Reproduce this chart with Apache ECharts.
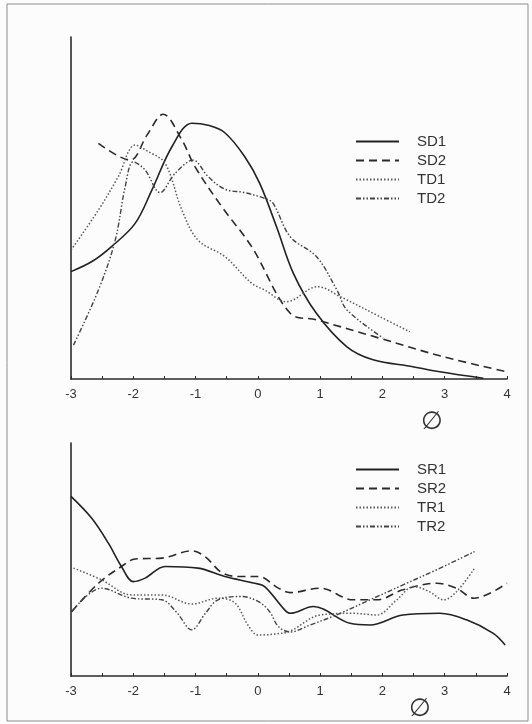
<!DOCTYPE html>
<html>
<head>
<meta charset="utf-8">
<script src="https://cdn.jsdelivr.net/npm/echarts@6/dist/echarts.min.js"></script>
<style>
html,body{margin:0;padding:0;background:#fcfcfc;}
#c{width:532px;height:724px;}
</style>
</head>
<body>
<div id="c"></div>
<script>
// x ticks (phi scale)
const xTicks = [-3, -2, -1, 0, 1, 2, 3, 4];
// Top panel: SD1, SD2, TD1, TD2  ([phi, relative value])
const SD1 = [[-3,31.4],[-2.65,34.5],[-2.35,38.7],[-1.97,45.5],[-1.7,55.3],[-1.38,67.9],[-1.06,74.8],[-0.8,74.2],[-0.53,72.0],[-0.21,65.0],[0.03,57.2],[0.3,44.5],[0.57,30.9],[0.94,19.2],[1.43,9.4],[1.85,5.6],[2.49,3.6],[2.92,2.1],[3.62,0.2]];
const SD2 = [[-2.56,68.9],[-2.05,64.0],[-1.78,71.3],[-1.52,77.4],[-1.22,69.9],[-1.01,62.1],[-0.58,50.4],[-0.1,38.7],[0.52,19.2],[0.94,17.3],[1.96,11.9],[2.98,6.5],[4.0,2.1]];
const TD1 = [[-3,37.7],[-2.56,49.4],[-2.24,59.2],[-1.97,68.4],[-1.76,66.5],[-1.49,63.1],[-1.22,49.4],[-0.96,40.6],[-0.53,35.8],[-0.1,28.0],[0.11,26.0],[0.46,22.6],[0.96,27.0],[1.32,24.1],[1.96,18.2],[2.44,13.8]];
const TD2 = [[-2.96,9.9],[-2.56,26.0],[-2.29,40.6],[-2.13,56.2],[-2.0,63.5],[-1.81,61.1],[-1.57,54.5],[-1.33,60.1],[-1.04,64.0],[-0.8,59.2],[-0.53,55.5],[-0.21,54.5],[0.11,52.8],[0.24,51.5],[0.52,41.6],[0.94,35.8],[1.27,26.0],[1.43,20.2],[2.01,12.0]];
// Bottom panel: SR1, SR2, TR1, TR2
const SR1 = [[-3,77.1],[-2.67,67.8],[-2.4,57.0],[-2.19,47.0],[-2.0,40.5],[-1.81,42.0],[-1.49,47.0],[-0.96,46.3],[-0.53,42.7],[-0.05,39.8],[0.11,38.4],[0.43,28.4],[0.52,26.9],[0.89,29.8],[1.48,22.6],[1.8,21.9],[2.33,26.2],[2.92,26.9],[3.35,24.1],[3.78,18.3],[3.97,13.3]];
const SR2 = [[-2.99,27.6],[-2.56,39.8],[-2.19,47.0],[-1.97,50.2],[-1.54,50.6],[-1.06,53.7],[-0.85,51.3],[-0.58,44.4],[-0.31,42.7],[0.01,42.7],[0.33,37.7],[0.52,35.8],[1.0,37.7],[1.53,32.7],[1.91,32.7],[2.33,37.0],[2.87,39.8],[3.18,37.8],[3.47,33.4],[4.0,39.8]];
const TR1 = [[-2.96,46.3],[-2.51,41.3],[-2.03,34.8],[-1.54,34.8],[-1.06,30.9],[-0.64,33.4],[-0.37,31.4],[-0.16,21.9],[0.0,17.6],[0.27,18.0],[0.52,19.3],[1.0,26.2],[1.53,26.9],[1.91,26.2],[2.23,32.7],[2.5,38.4],[2.76,36.1],[2.98,32.7],[3.19,36.2],[3.48,46.3]];
const TR2 = [[-2.99,27.6],[-2.51,37.7],[-2.03,33.4],[-1.54,32.7],[-1.31,27.5],[-1.06,19.8],[-0.85,26.6],[-0.64,32.7],[-0.26,34.1],[0.01,31.9],[0.19,27.6],[0.33,21.2],[0.52,18.9],[0.84,21.9],[1.26,26.2],[1.8,32.7],[2.33,39.1],[2.87,45.6],[3.48,53.4]];

const ink = '#2a2a2a';
const styles = {
  S1: {type:'solid', width:1.6, color:'#222'},
  S2: {type:[8,5], width:1.6, color:'#2a2a2a'},
  T1: {type:[1.5,2], width:1.5, color:'#5a5a5a'},
  T2: {type:[5,2,1.5,2,1.5,2], width:1.4, color:'#444'}
};

function xAxis(gi){
  return {
    gridIndex: gi, type:'value', min:-3, max:4, interval:1,
    axisLine:{show:true, onZero:false, lineStyle:{color:ink, width:1.6}},
    axisTick:{show:true, inside:true, length:3, lineStyle:{color:ink, width:1}},
    minorTick:{show:true, splitNumber:2, length:3, lineStyle:{color:ink, width:1}},
    axisLabel:{color:'#333', fontSize:13, fontFamily:'Liberation Sans', margin:9,
      formatter: v => xTicks.indexOf(v) >= 0 ? String(v) : ''},
    splitLine:{show:false}, minorSplitLine:{show:false}
  };
}
function yAxis(gi){
  return {
    gridIndex: gi, type:'value', min:0, max:100, position:'left',
    axisLine:{show:true, onZero:false, lineStyle:{color:ink, width:1.6}},
    axisTick:{show:false}, axisLabel:{show:false}, splitLine:{show:false}
  };
}
function line(name, data, st, gi){
  return {
    name, type:'line', data, xAxisIndex:gi, yAxisIndex:gi,
    symbol:'none', smooth:0.35, lineStyle: st, itemStyle:{color: st.color},
    emphasis:{disabled:true}, animation:false
  };
}
const legendBase = {
  orient:'vertical', left:350, itemWidth:43, itemHeight:14, itemGap:4,
  itemStyle:{opacity:0},
  textStyle:{fontSize:15, color:'#333', fontFamily:'Liberation Sans', padding:[0,0,0,13]},
  selectedMode:false
};

const chart = echarts.init(document.getElementById('c'), null, {renderer:'canvas'});
chart.setOption({
  backgroundColor:'#fcfcfc',
  animation:false,
  grid:[
    {left:71, right:25, top:37, height:342},
    {left:71, right:25, top:443, height:233}
  ],
  xAxis:[xAxis(0), xAxis(1)],
  yAxis:[yAxis(0), yAxis(1)],
  legend:[
    Object.assign({}, legendBase, {top:129, data:['SD1','SD2','TD1','TD2']}),
    Object.assign({}, legendBase, {top:457, data:['SR1','SR2','TR1','TR2']})
  ],
  series:[
    line('SD1', SD1, styles.S1, 0),
    line('SD2', SD2, styles.S2, 0),
    line('TD1', TD1, styles.T1, 0),
    line('TD2', TD2, styles.T2, 0),
    line('SR1', SR1, styles.S1, 1),
    line('SR2', SR2, styles.S2, 1),
    line('TR1', TR1, styles.T1, 1),
    line('TR2', TR2, styles.T2, 1)
  ],
  graphic:[
    {type:'rect', shape:{x:7, y:4, width:521, height:717}, style:{fill:'none', stroke:'#8c8c8c', lineWidth:1}, silent:true},
    {type:'text', left:421, top:410, style:{text:'\u2205', fontSize:25, fill:'#333', fontFamily:'DejaVu Sans'}},
    {type:'text', left:409, top:697, style:{text:'\u2205', fontSize:25, fill:'#333', fontFamily:'DejaVu Sans'}}
  ]
});
</script>
</body>
</html>
